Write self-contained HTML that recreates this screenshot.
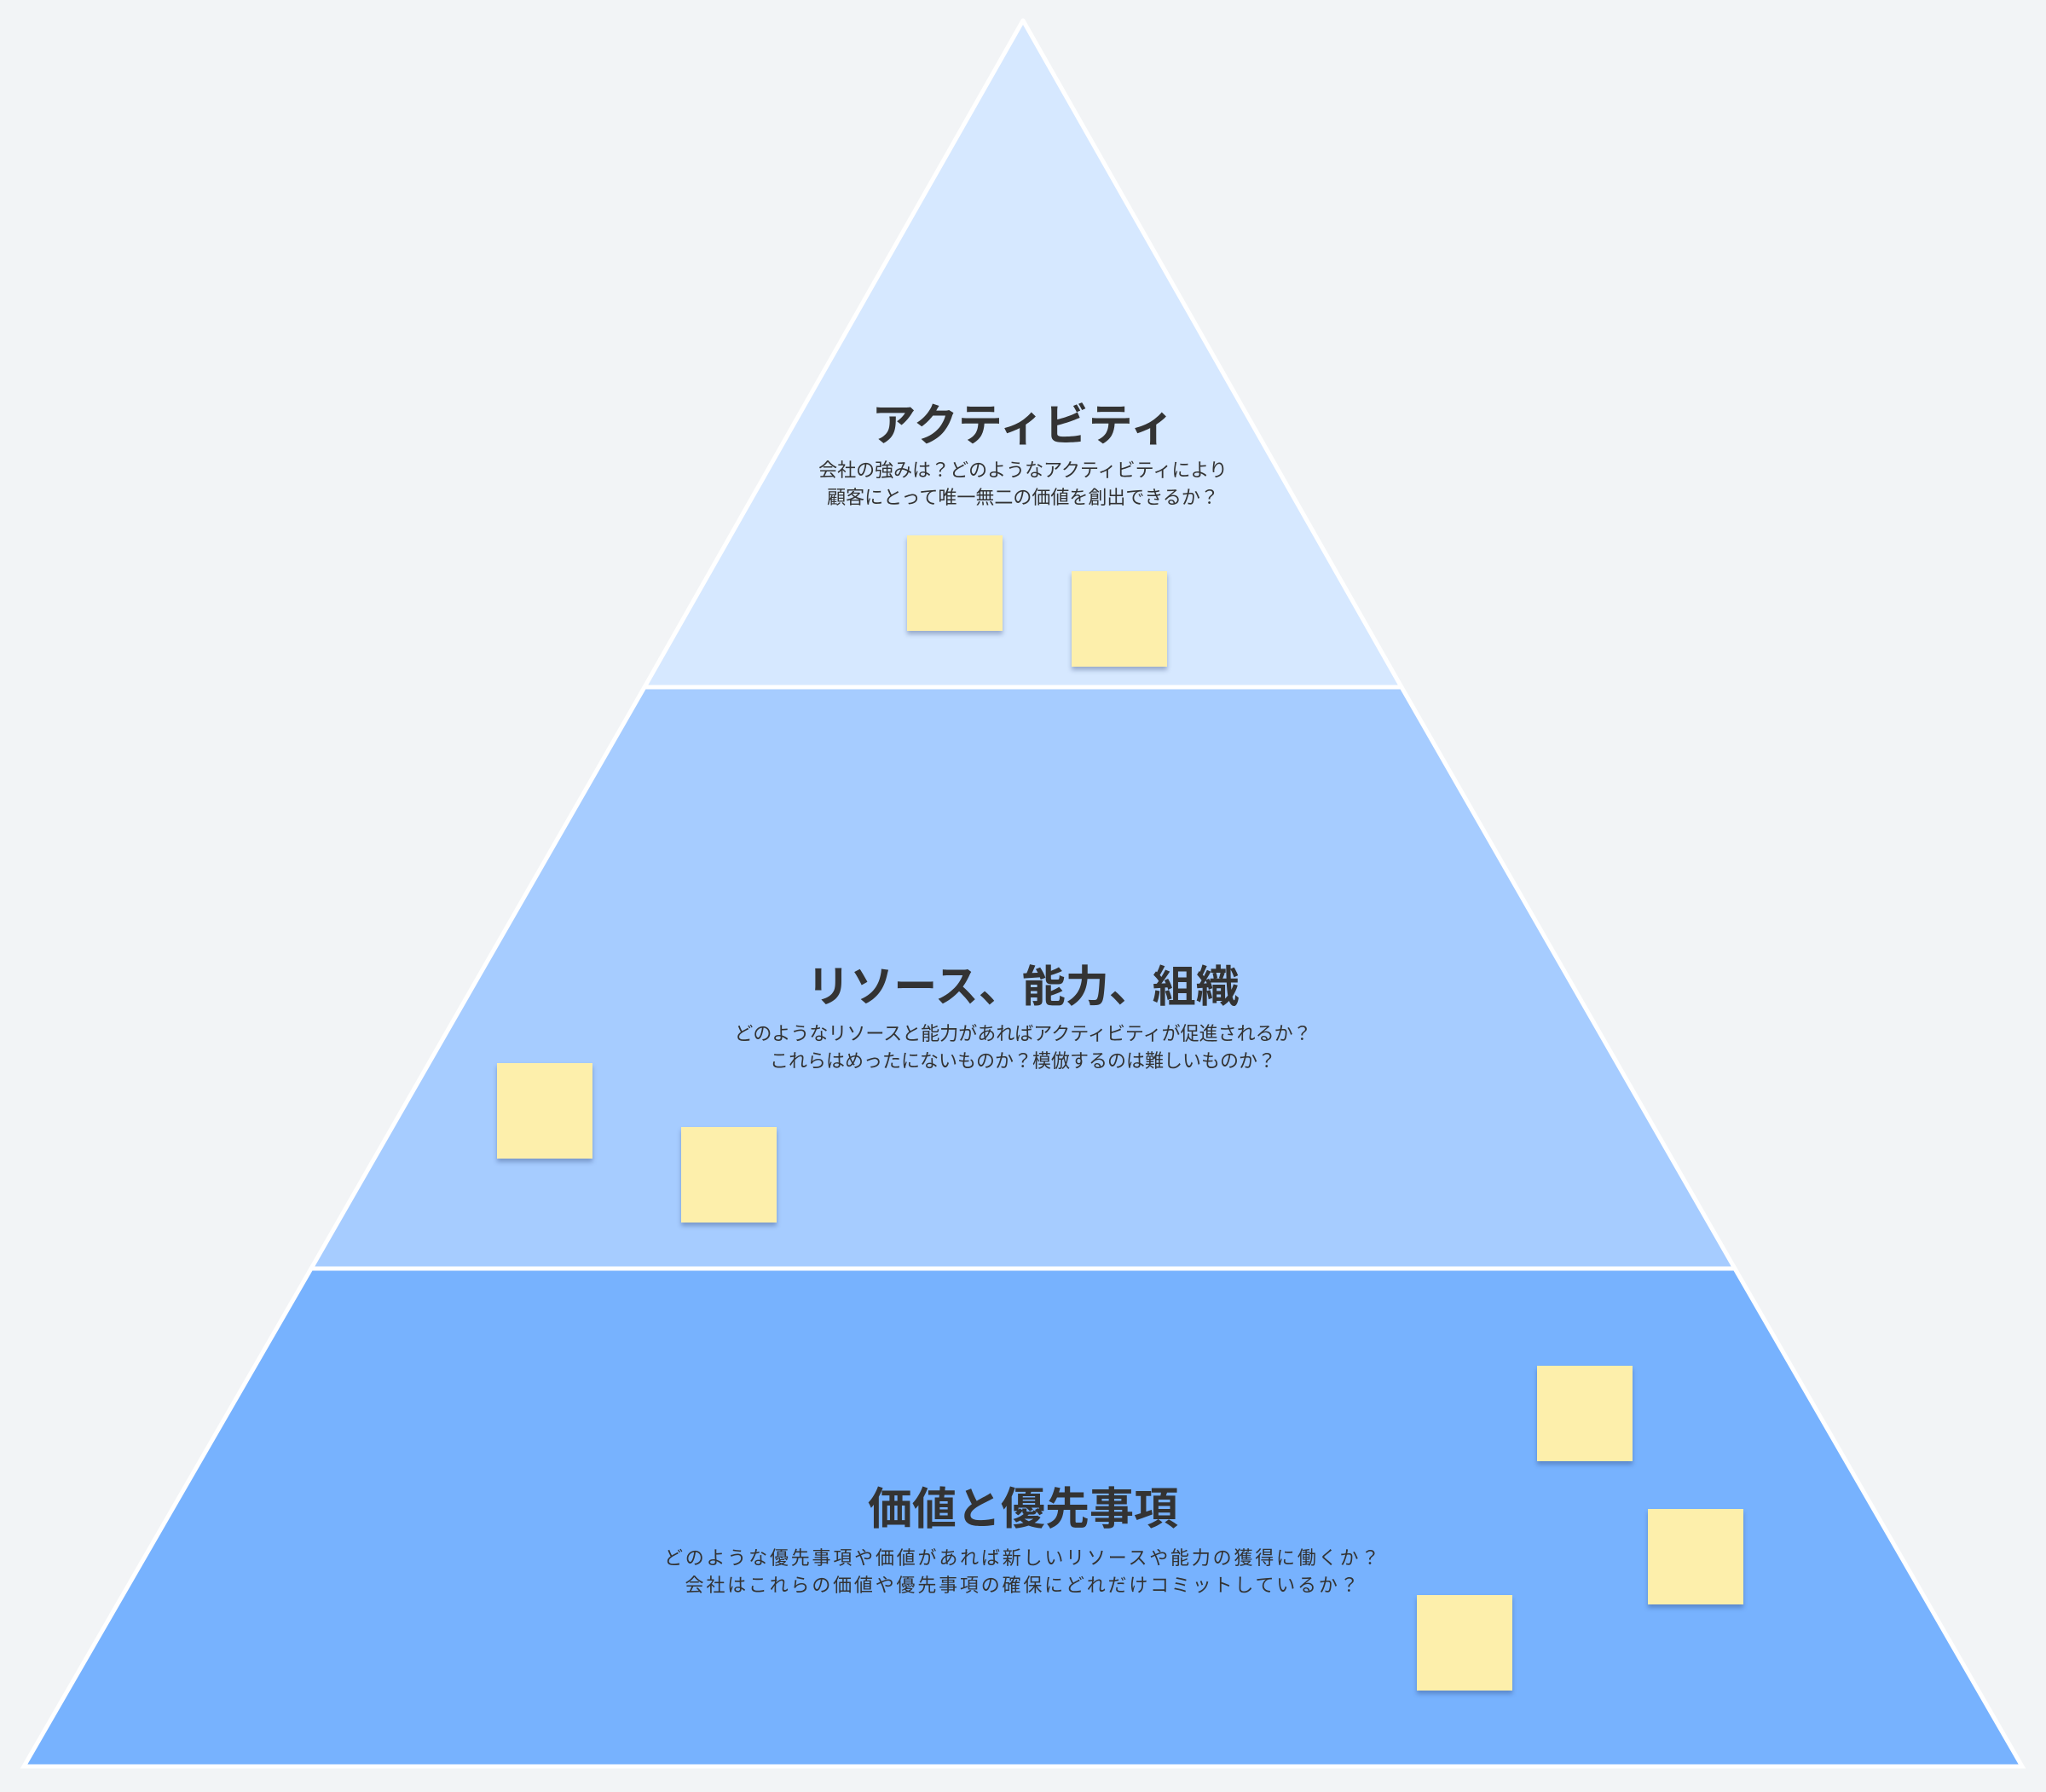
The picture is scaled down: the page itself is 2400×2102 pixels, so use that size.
<!DOCTYPE html>
<html><head><meta charset="utf-8"><style>
html,body{margin:0;padding:0;background:#f2f4f6;}
body{width:2400px;height:2102px;position:relative;overflow:hidden;font-family:"Liberation Sans","Noto Sans CJK JP",sans-serif;color:#333;}
svg{position:absolute;left:0;top:0;}
.t{position:absolute;left:0;width:2400px;text-align:center;font-weight:bold;font-size:52px;line-height:60px;color:#333;}
.s{position:absolute;left:0;width:2400px;text-align:center;font-size:22px;line-height:32px;color:#333;}
.n{position:absolute;width:112px;height:112px;background:#fdefab;box-shadow:0 4px 5px rgba(40,60,110,0.35);}
</style></head><body>
<svg width="2400" height="2102" viewBox="0 0 2400 2102">
<polygon points="1200,24 1644,806 756,806" fill="#d6e8ff" stroke="#fff" stroke-width="5" stroke-linejoin="round"/>
<polygon points="756,806 1644,806 2035,1488 365,1488" fill="#a6ccff" stroke="#fff" stroke-width="5"/>
<polygon points="365,1488 2035,1488 2372,2072 28,2072" fill="#77b2fe" stroke="#fff" stroke-width="5"/>
</svg>
<div class="t" style="top:470px">アクティビティ</div>
<div class="s" style="top:536px">会社の強みは？どのようなアクティビティにより<br>顧客にとって唯一無二の価値を創出できるか？</div>
<div class="t" style="top:1128px;font-size:51px">リソース、能力、組織</div>
<div class="s" style="top:1197px">どのようなリソースと能力があればアクティビティが促進されるか？<br>これらはめったにないものか？模倣するのは難しいものか？</div>
<div class="t" style="top:1741px">価値と優先事項</div>
<div class="s" style="top:1812px;letter-spacing:2.8px">どのような優先事項や価値があれば新しいリソースや能力の獲得に働くか？<br>会社はこれらの価値や優先事項の確保にどれだけコミットしているか？</div>
<div class="n" style="left:1064px;top:628px"></div>
<div class="n" style="left:1257px;top:670px"></div>
<div class="n" style="left:583px;top:1247px"></div>
<div class="n" style="left:799px;top:1322px"></div>
<div class="n" style="left:1803px;top:1602px"></div>
<div class="n" style="left:1933px;top:1770px"></div>
<div class="n" style="left:1662px;top:1871px"></div>
</body></html>
